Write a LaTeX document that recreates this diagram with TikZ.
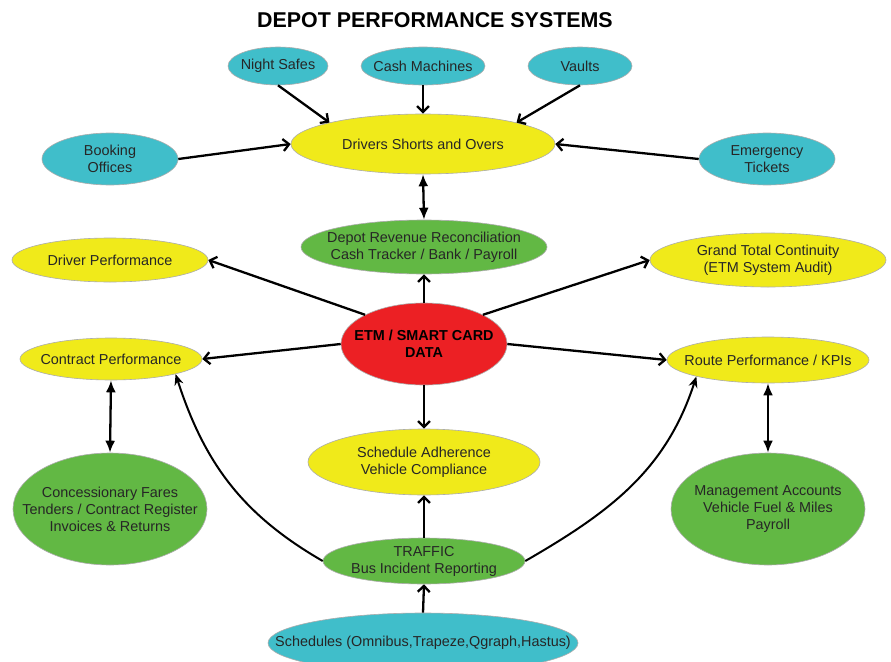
\documentclass[tikz,border=0pt]{standalone}
\usepackage{fontspec}
\setmainfont{Liberation Sans}
\usetikzlibrary{shapes.geometric,arrows.meta}

\newlength{\du}
\setlength{\du}{1pt}

\definecolor{cyanfill}{RGB}{64,190,202}
\definecolor{yellowfill}{RGB}{240,234,26}
\definecolor{greenfill}{RGB}{98,184,68}
\definecolor{redfill}{RGB}{236,32,36}

\tikzset{
  blob/.style={ellipse, draw=gray!65, line width=0.6pt, inner sep=0pt},
  cyanblob/.style={blob, fill=cyanfill},
  yellowblob/.style={blob, fill=yellowfill},
  greenblob/.style={blob, fill=greenfill},
  redblob/.style={blob, fill=redfill},
  lbl/.style={align=center, inner sep=0pt, text=black!85, font=\fontsize{14.4}{17}\selectfont},
  conn/.style={line width=2.3pt, -{Straight Barb[length=6pt,width=12pt]}},
  bothway/.style={line width=2.3pt, {Latex[length=12pt,width=10pt]}-{Latex[length=12pt,width=10pt]}},
  bendconn/.style={line width=2pt, -{Stealth[length=11pt,width=9pt]}},
}

\begin{document}
\begin{tikzpicture}
\pgftransformyscale{-1.000000}
\useasboundingbox[fill=white] (0\du,0\du) rectangle (891\du,661\du);
% title
\node[inner sep=0pt, font=\fontsize{21.4}{25}\selectfont\bfseries] (title) at (435\du,20\du) {DEPOT PERFORMANCE SYSTEMS};
% sources on top
\node[cyanblob, minimum width=100\du, minimum height=38\du] (ns) at (278\du,66\du) {};
\node[lbl] (ns-t) at (ns) {Night Safes};
\node[cyanblob, minimum width=124\du, minimum height=38\du] (cm) at (423\du,66\du) {};
\node[lbl] (cm-t) at (cm) {Cash Machines};
\node[cyanblob, minimum width=104\du, minimum height=38\du] (vl) at (580\du,66\du) {};
\node[lbl] (vl-t) at (vl) {Vaults};
\node[cyanblob, minimum width=136\du, minimum height=52\du] (bo) at (110\du,159\du) {};
\node[lbl] (bo-t) at (bo) {Booking\\Offices};
\node[cyanblob, minimum width=136\du, minimum height=52\du] (et) at (767\du,159\du) {};
\node[lbl] (et-t) at (et) {Emergency\\Tickets};
\node[yellowblob, minimum width=264\du, minimum height=60\du] (dso) at (423\du,144\du) {};
\node[lbl] (dso-t) at (dso) {Drivers Shorts and Overs};
% middle row
\node[greenblob, minimum width=246\du, minimum height=54\du] (drr) at (424\du,247\du) {};
\node[lbl] (drr-t) at (drr) {Depot Revenue Reconciliation\\Cash Tracker / Bank / Payroll};
\node[yellowblob, minimum width=196\du, minimum height=44\du] (dp) at (110\du,260\du) {};
\node[lbl] (dp-t) at (dp) {Driver Performance};
\node[yellowblob, minimum width=236\du, minimum height=54\du] (gt) at (768\du,260\du) {};
\node[lbl] (gt-t) at (gt) {Grand Total Continuity\\(ETM System Audit)};
\node[redblob, minimum width=166\du, minimum height=82\du] (etm) at (424\du,344\du) {};
\node[lbl, font=\fontsize{14.4}{17}\selectfont\bfseries, text=black] (etm-t) at (etm) {ETM / SMART CARD\\DATA};
\node[yellowblob, minimum width=182\du, minimum height=42\du] (cp) at (111\du,359\du) {};
\node[lbl] (cp-t) at (cp) {Contract Performance};
\node[yellowblob, minimum width=202\du, minimum height=46\du] (rp) at (768\du,360\du) {};
\node[lbl] (rp-t) at (rp) {Route Performance / KPIs};
% lower part
\node[yellowblob, minimum width=232\du, minimum height=66\du] (sa) at (424\du,462\du) {};
\node[lbl] (sa-t) at (sa) {Schedule Adherence\\Vehicle Compliance};
\node[greenblob, minimum width=194\du, minimum height=112\du] (cf) at (110\du,509\du) {};
\node[lbl] (cf-t) at (cf) {Concessionary Fares\\Tenders / Contract Register\\Invoices \& Returns};
\node[greenblob, minimum width=194\du, minimum height=112\du] (ma) at (768\du,509\du) {};
\node[lbl] (ma-t) at (ma) {Management Accounts\\Vehicle Fuel \& Miles\\Payroll};
\node[greenblob, minimum width=202\du, minimum height=46\du] (tr) at (424\du,561\du) {};
\node[lbl] (tr-t) at (tr) {TRAFFIC\\Bus Incident Reporting};
\node[cyanblob, minimum width=310\du, minimum height=60\du] (sch) at (423\du,643\du) {};
\node[lbl] (sch-t) at (sch) {Schedules (Omnibus,Trapeze,Qgraph,Hastus)};
% connectors
\draw[conn] (ns.south) -- (dso.north west);
\draw[conn] (cm.south) -- (dso.north);
\draw[conn] (vl.south) -- (dso.north east);
\draw[conn] (bo.east) -- (dso.west);
\draw[conn] (et.west) -- (dso.east);
\draw[bothway] (dso.south) -- (drr.north);
\draw[conn] (etm.north) -- (drr.south);
\draw[conn] (etm.north west) -- (dp.east);
\draw[conn] (etm.north east) -- (gt.west);
\draw[conn] (etm.west) -- (cp.east);
\draw[conn] (etm.east) -- (rp.west);
\draw[conn] (etm.south) -- (sa.north);
\draw[bothway] (cp.south) -- (cf.north);
\draw[bothway] (rp.south) -- (ma.north);
\draw[conn] (tr.north) -- (sa.south);
\draw[conn] (sch.north) -- (tr.south);
\draw[bendconn] (tr.west) to[out=-150, in=72] (cp.south east);
\draw[bendconn] (tr.east) to[out=-30, in=108] (rp.south west);
\end{tikzpicture}
\end{document}
